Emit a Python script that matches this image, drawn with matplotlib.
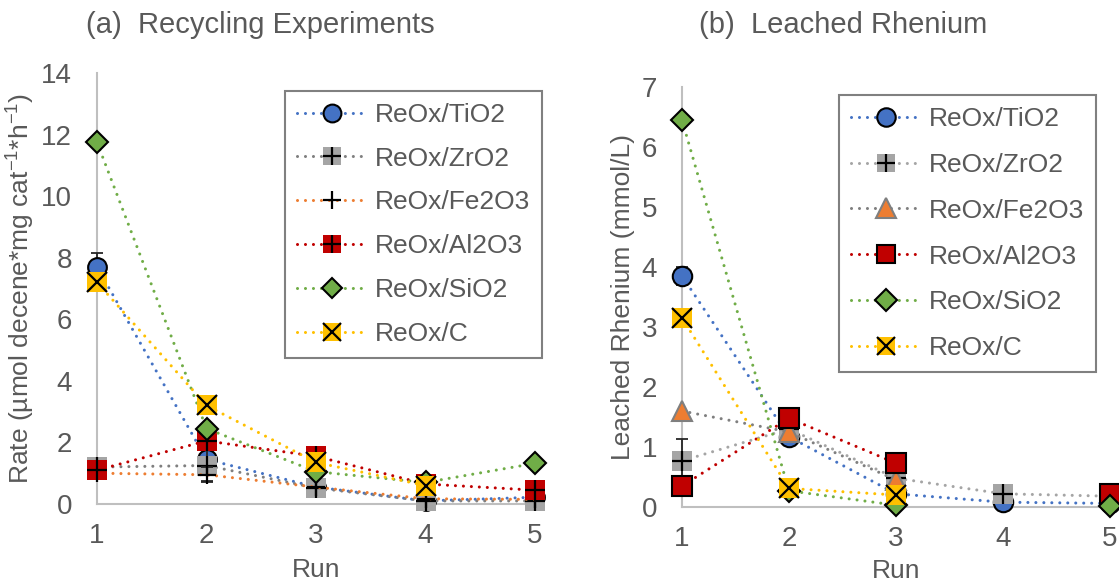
import numpy as np
import matplotlib
matplotlib.use("Agg")
import matplotlib.pyplot as plt
from matplotlib.lines import Line2D
from matplotlib.legend_handler import HandlerTuple

plt.rcParams['font.family'] = ['Liberation Sans', 'DejaVu Sans']
plt.rcParams['mathtext.fontset'] = 'custom'
plt.rcParams['mathtext.rm'] = 'Liberation Sans'

nan = np.nan
runs = [1, 2, 3, 4, 5]
labels = ['ReOx/TiO2', 'ReOx/ZrO2', 'ReOx/Fe2O3', 'ReOx/Al2O3', 'ReOx/SiO2', 'ReOx/C']

# (a) Recycling experiments: rate
rate_TiO2 = [7.7, 1.45, 0.55, 0.1, 0.22]
rate_ZrO2 = [1.2, 1.25, 0.52, 0.1, 0.1]
rate_Fe2O3 = [1.0, 0.95, 0.55, 0.17, 0.15]
rate_Al2O3 = [1.1, 2.05, 1.55, 0.65, 0.45]
rate_SiO2 = [11.75, 2.45, 1.05, 0.7, 1.32]
rate_C = [7.2, 3.2, 1.35, 0.6, nan]
rate_err_TiO2 = [0.45, 0, 0, 0, 0]
rate_err_ZrO2 = [0.2, 0.5, 0.1, 0, 0]
rate_err_Fe2O3 = [0, 0.25, 0, 0, 0]

# (b) Leached rhenium
leach_TiO2 = [3.85, 1.17, 0.22, 0.08, 0.06]
leach_ZrO2 = [0.77, 1.3, 0.48, 0.22, 0.18]
leach_Fe2O3 = [1.6, 1.25, 0.45, nan, nan]
leach_Al2O3 = [0.35, 1.48, 0.73, nan, 0.22]
leach_SiO2 = [6.45, 0.27, 0.03, nan, 0.02]
leach_C = [3.15, 0.31, 0.2, nan, nan]
leach_err_TiO2 = [0.15, 0, 0, 0, 0]
leach_err_ZrO2 = [0.37, 0, 0, 0.05, 0]

BLUE = '#4472C4'; GRAY = '#A5A5A5'; DGRAY = '#7F7F7F'; ORANGE = '#ED7D31'
RED = '#C00000'; GREEN = '#70AD47'; GOLD = '#FFC000'
TXT = '#595959'

DOT = (0, (0.01, 2.6))

fig = plt.figure(figsize=(11.19, 5.86), dpi=100)
ax1 = fig.add_axes([97/1119, 1-504/586, 438/1119, 431/586])
ax2 = fig.add_axes([682/1119, 1-507/586, 428/1119, 420/586])


def draw(ax, y, lc, marker, face, edge, cross, ms, z, err=None):
    ax.plot(runs, y, linestyle=DOT, color=lc, lw=2.2, dash_capstyle='round',
            zorder=z, clip_on=False)
    if err is not None:
        e = np.array(err, dtype=float)
        m = e > 0
        ax.errorbar(np.array(runs)[m], np.array(y)[m], yerr=e[m], fmt='none',
                    ecolor='#262626', elinewidth=1.3, capsize=4, capthick=1.3,
                    zorder=z + 0.1, clip_on=False)
    h = []
    lms = ms * 0.95
    if marker is not None:
        ax.plot(runs, y, linestyle='none', marker=marker, mfc=face, mec=edge,
                mew=1.5 if edge != 'none' else 0, ms=ms, zorder=z + 0.2, clip_on=False)
        h.append(Line2D([], [], linestyle=DOT, color=lc, lw=2.2, dash_capstyle='round',
                        marker=marker, mfc=face, mec=edge,
                        mew=1.5 if edge != 'none' else 0, ms=lms))
    else:
        h.append(Line2D([], [], linestyle=DOT, color=lc, lw=2.2, dash_capstyle='round'))
    if cross is not None:
        ax.plot(runs, y, linestyle='none', marker=cross, color='black', mew=1.6,
                ms=ms, zorder=z + 0.3, clip_on=False)
        h.append(Line2D([], [], linestyle='none', marker=cross, color='black',
                        mew=1.6, ms=lms))
    return tuple(h) if len(h) > 1 else h[0]


hA = [
    draw(ax1, rate_TiO2, BLUE, 'o', BLUE, 'black', None, 13.5, 3, rate_err_TiO2),
    draw(ax1, rate_ZrO2, DGRAY, 's', GRAY, 'none', '+', 14, 4, rate_err_ZrO2),
    draw(ax1, rate_Fe2O3, ORANGE, None, None, None, '+', 13, 5, rate_err_Fe2O3),
    draw(ax1, rate_Al2O3, RED, 's', RED, 'none', '+', 14, 6),
    draw(ax1, rate_SiO2, GREEN, 'D', GREEN, 'black', None, 11, 7),
    draw(ax1, rate_C, GOLD, 's', GOLD, 'none', 'x', 14, 8),
]

hB = [
    draw(ax2, leach_TiO2, BLUE, 'o', BLUE, 'black', None, 14, 3, leach_err_TiO2),
    draw(ax2, leach_ZrO2, GRAY, 's', GRAY, 'none', '+', 14, 4, leach_err_ZrO2),
    draw(ax2, leach_Fe2O3, DGRAY, '^', ORANGE, DGRAY, None, 15, 5),
    draw(ax2, leach_Al2O3, RED, 's', RED, 'black', None, 14, 6),
    draw(ax2, leach_SiO2, GREEN, 'D', GREEN, 'black', None, 11.5, 7),
    draw(ax2, leach_C, GOLD, 's', GOLD, 'none', 'x', 14, 8),
]

for ax, top, step in ((ax1, 14, 2), (ax2, 7, 1)):
    ax.set_xlim(1, 5)
    ax.set_ylim(0, top)
    ax.set_xticks(runs)
    ax.set_yticks(np.arange(0, top + 0.001, step))
    for s in ('top', 'right'):
        ax.spines[s].set_visible(False)
    for s in ('left', 'bottom'):
        ax.spines[s].set_color('#BFBFBF')
        ax.spines[s].set_linewidth(1.5)
        ax.spines[s].set_zorder(1)
    ax.tick_params(length=0, labelsize=20, colors=TXT)
    ax.tick_params(axis='x', pad=14)
    ax.tick_params(axis='y', pad=18)
    ax.patch.set_alpha(0)

ax1.set_xlabel('Run', fontsize=19, color=TXT)
ax2.set_xlabel('Run', fontsize=19, color=TXT)
ax1.xaxis.set_label_coords(0.5, -0.125)
ax2.xaxis.set_label_coords(0.5, -0.125)
ax1.set_ylabel(r'Rate (µmol decene*mg cat$^{\mathregular{-1}}$*h$^{\mathregular{-1}}$)',
               fontsize=19, color=TXT)
ax1.yaxis.set_label_coords(-0.14, 0.5)
ax2.set_ylabel('Leached Rhenium (mmol/L)', fontsize=19, color=TXT)
ax2.yaxis.set_label_coords(-0.11, 0.5)

fig.text(260/1119, 1-25/586, '(a)  Recycling Experiments', fontsize=21, color=TXT,
         ha='center', va='center')
fig.text(843/1119, 1-25/586, '(b)  Leached Rhenium', fontsize=21, color=TXT,
         ha='center', va='center')

for ax, hs, anchor, ls in ((ax1, hA, (285/1119, 1-91/586), 0.75),
                           (ax2, hB, (839/1119, 1-95/586), 0.83)):
    leg = ax.legend(hs, labels, loc='upper left', bbox_to_anchor=anchor,
                    bbox_transform=fig.transFigure, fontsize=19, frameon=True,
                    fancybox=False, edgecolor='#808080', framealpha=1,
                    handlelength=2.65, handletextpad=0.3, labelspacing=ls,
                    borderpad=0.45, borderaxespad=0, numpoints=1,
                    handler_map={tuple: HandlerTuple(ndivide=1)})
    leg.get_frame().set_linewidth(1.5)
    for t in leg.get_texts():
        t.set_color(TXT)
    leg.set_zorder(20)

fig.savefig('out.png', dpi=100)
